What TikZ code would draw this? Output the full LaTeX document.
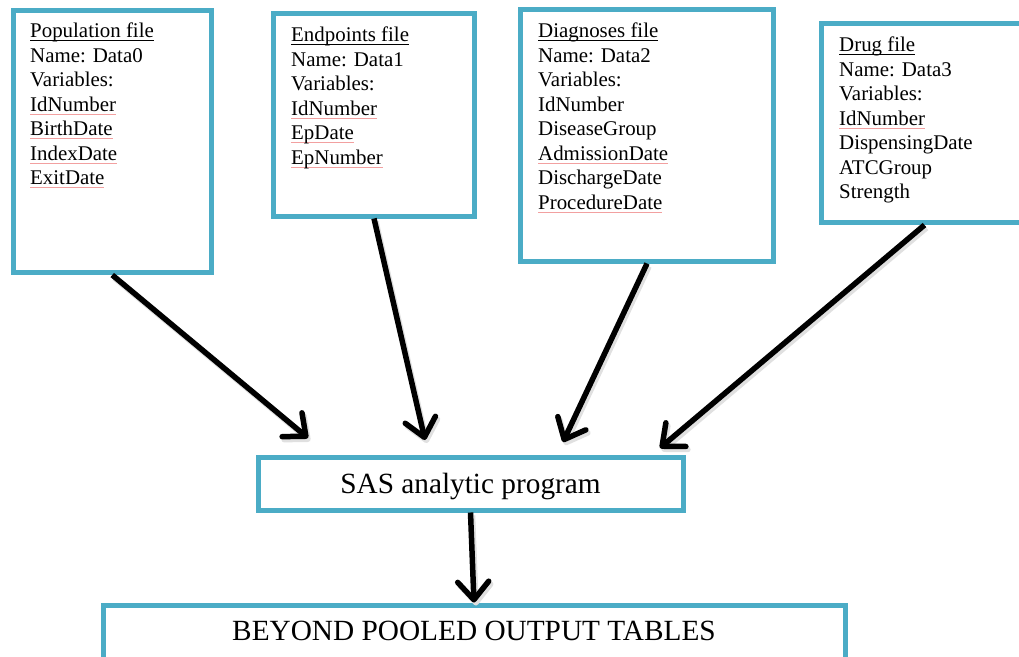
\documentclass[tikz,border=0pt]{standalone}
\usepackage{fontspec}
\setmainfont{Liberation Serif}
\usetikzlibrary{arrows.meta}
\definecolor{boxblue}{RGB}{75,172,198}
\definecolor{sqpink}{RGB}{242,160,160}
\newcommand\spellmark[1]{\setbox0\hbox{#1}\rlap{\textcolor{sqpink}{\rule[-3.2bp]{\wd0}{0.9bp}}}\box0}
\newcommand\hdrline[1]{\setbox0\hbox{#1}\rlap{\rule[-2.6bp]{\wd0}{0.9bp}}\box0}
\begin{document}
\begin{tikzpicture}[x=1bp,y=-1bp,
  filebox/.style={draw=boxblue, line width=5bp, fill=white, inner sep=0pt, anchor=north west},
  ftext/.style={anchor=base west, inner sep=0pt, font=\fontsize{20.9bp}{24.5bp}\selectfont},
  btext/.style={font=\fontsize{29.3bp}{34bp}\selectfont},
  arr/.style={line width=5.5bp, -{Straight Barb[length=18bp,width=31bp,line cap=round,line join=round]}},
  arrshadow/.style={arr, draw=black!10, shift={(2bp,-3bp)}}
]
\useasboundingbox (0,0) rectangle (1019,657);
\fill[white] (0,0) rectangle (1019,657);

\node[filebox, minimum width=198.5bp, minimum height=261.5bp] (b0) at (10.5,8.5) {};
\node[filebox, minimum width=201bp, minimum height=202bp] (b1) at (271,11.5) {};
\node[filebox, minimum width=253bp, minimum height=251bp] (b2) at (518,7.5) {};
\node[filebox, minimum width=206bp, minimum height=198.5bp] (b3) at (819,21.5) {};
\node[filebox, btext, minimum width=425bp, minimum height=53bp, text height=24bp, text depth=4bp] (sas) at (255.5,454.5) {SAS analytic program};
\node[filebox, btext, minimum width=742bp, minimum height=60bp, text height=17bp, text depth=6bp] (out) at (100.5,602.5) {BEYOND POOLED OUTPUT TABLES};

\node[ftext] (t0) at (30,38) {\begin{tabular}[t]{@{}l@{}}
\hdrline{Population file}\\
Name: Data0\\
Variables:\\
\spellmark{IdNumber}\\
\spellmark{BirthDate}\\
\spellmark{IndexDate}\\
\spellmark{ExitDate}
\end{tabular}};

\node[ftext] (t1) at (291,42) {\begin{tabular}[t]{@{}l@{}}
\hdrline{Endpoints file}\\
Name: Data1\\
Variables:\\
\spellmark{IdNumber}\\
\spellmark{EpDate}\\
\spellmark{EpNumber}
\end{tabular}};

\node[ftext] (t2) at (538,38) {\begin{tabular}[t]{@{}l@{}}
\hdrline{Diagnoses file}\\
Name: Data2\\
Variables:\\
IdNumber\\
DiseaseGroup\\
\spellmark{AdmissionDate}\\
DischargeDate\\
\spellmark{ProcedureDate}
\end{tabular}};

\node[ftext] (t3) at (839,52) {\begin{tabular}[t]{@{}l@{}}
\hdrline{Drug file}\\
Name: Data3\\
Variables:\\
\spellmark{IdNumber}\\
DispensingDate\\
ATCGroup\\
Strength
\end{tabular}};

\coordinate (e1) at (308,438);
\coordinate (e2) at (425,440);
\coordinate (e3) at (563,442);
\coordinate (e4) at (660,448);

\begin{scope}[transform canvas={shift={(2bp,-3bp)}}]
\draw[arr, draw=black!12] (b0.south) -- (e1);
\draw[arr, draw=black!12] (b1.south) -- (e2);
\draw[arr, draw=black!12] (b2.south) -- (e3);
\draw[arr, draw=black!12] (b3.south) -- (e4);
\draw[arr, draw=black!12] (sas.south) -- (out.north);
\end{scope}

\draw[arr] (b0.south) -- (e1);
\draw[arr] (b1.south) -- (e2);
\draw[arr] (b2.south) -- (e3);
\draw[arr] (b3.south) -- (e4);
\draw[arr] (sas.south) -- (out.north);
\end{tikzpicture}
\end{document}
